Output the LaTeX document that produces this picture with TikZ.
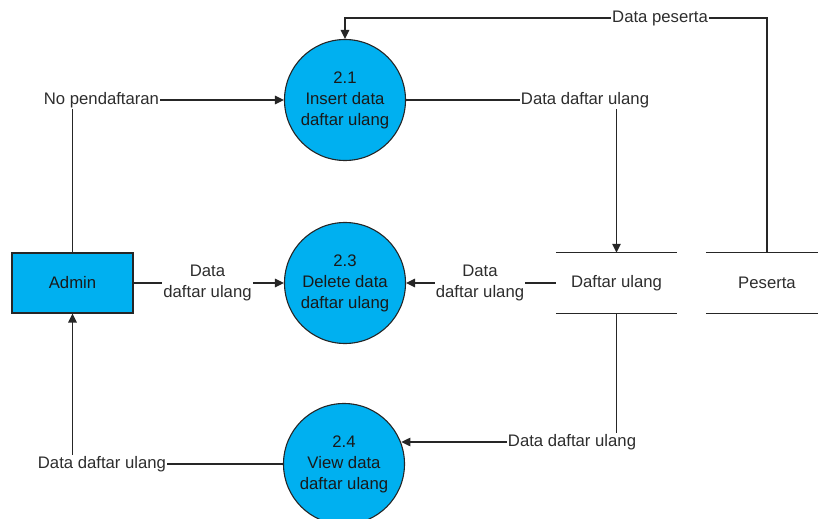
\documentclass[tikz,border=0pt]{standalone}
\usepackage{fontspec}
\setmainfont{Liberation Sans}
\usetikzlibrary{arrows.meta}
\definecolor{procfill}{RGB}{0,176,240}
\definecolor{txt}{RGB}{45,45,45}
\begin{document}
\begin{tikzpicture}[x=1bp,y=-1bp,
  every node/.style={font=\fontsize{16.7bp}{21bp}\selectfont, text=txt},
  flow/.style={line width=1.3bp, draw=black!85},
  arr/.style={flow, -{Triangle[length=9bp,width=8.5bp]}},
  proc/.style={circle, draw=black!85, line width=1.1bp, fill=procfill, minimum size=121bp, inner sep=0pt, align=center, text=black!90},
  ent/.style={rectangle, draw=black!85, line width=1.1bp, fill=procfill, minimum width=121bp, minimum height=60bp, text=black!90},
  storebox/.style={minimum height=60bp, inner sep=0pt},
  lbl/.style={inner sep=1bp, align=center}
]
\useasboundingbox (0,0) rectangle (818,519);

% processes
\node[proc] (c21) at (345,100) {2.1\\Insert data\\daftar ulang};
\node[proc] (c23) at (345,283) {2.3\\Delete data\\daftar ulang};
\node[proc] (c24) at (344,464) {2.4\\View data\\daftar ulang};

% entity
\node[ent] (admin) at (72.5,283) {Admin};

% data stores
\node[storebox, minimum width=121bp] (store) at (616.5,283) {Daftar ulang};
\draw[flow] (store.north west) -- (store.north east);
\draw[flow] (store.south west) -- (store.south east);
\node[storebox, minimum width=122bp] (pes) at (767,283) {Peserta};
\draw[flow] (pes.north west) -- (pes.north east);
\draw[flow] (pes.south west) -- (pes.south east);

% labels
\node[lbl] (lpes) at (660,18) {Data peserta};
\node[lbl] (lno) at (101.5,100) {No pendaftaran};
\node[lbl] (ldu1) at (585,100) {Data daftar ulang};
\node[lbl] (la) at (207.5,283) {Data\\daftar ulang};
\node[lbl] (lb) at (480,283) {Data\\daftar ulang};
\node[lbl] (lc) at (572,442) {Data daftar ulang};
\node[lbl] (ld) at (102,464) {Data daftar ulang};

% connectors
\draw[flow] (pes.north) |- (lpes.east);
\draw[arr] (lpes.west) -| (c21.north);

\draw[flow] (admin.north) -- (admin.north |- lno.south);
\draw[arr] (lno.east) -- (c21.west);

\draw[flow] (c21.east) -- (ldu1.west);
\draw[arr] (ldu1.south -| store.north) -- (store.north);

\draw[flow] (admin.east) -- (la.west);
\draw[arr] (la.east) -- (c23.west);

\draw[flow] (store.west) -- (lb.east);
\draw[arr] (lb.west) -- (c23.east);

\draw[flow] (store.south) -- (store.south |- lc.north);
\draw[arr] (lc.west) -- (lc.west -| c24.20);

\draw[flow] (c24.west) -- (ld.east);
\draw[arr] (ld.north -| admin.south) -- (admin.south);
\end{tikzpicture}
\end{document}
